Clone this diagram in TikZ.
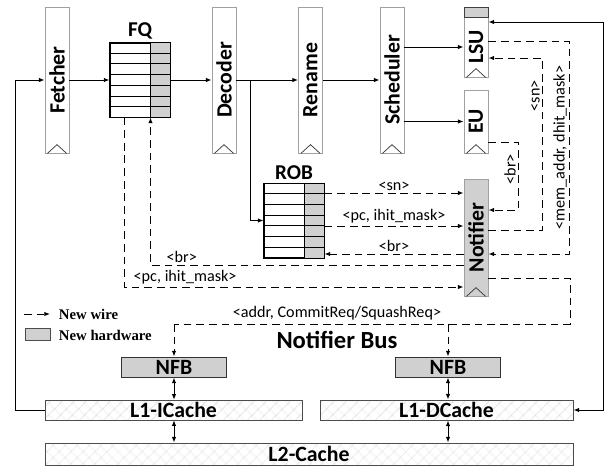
\documentclass[tikz,border=0pt]{standalone}
\usepackage{fontspec}
\setmainfont{Carlito}
\newfontfamily\legfont{Liberation Serif}
\usetikzlibrary{positioning,arrows.meta,calc,patterns.meta}
\definecolor{hwgray}{HTML}{D0D0D0}
\definecolor{stgline}{HTML}{A0A0A0}

\begin{document}
\begin{tikzpicture}[x=0.025cm,y=-0.025cm,
 st/.style={draw=stgline,fill=white,line width=0.6pt,minimum width=0.6cm,inner sep=0pt,
 font=\fontsize{15.5}{18}\selectfont\bfseries},
 tb/.style={draw=black,line width=0.7pt,fill=white,minimum width=1.5cm,minimum height=1.85cm,inner sep=0pt},
 ca/.style={draw=black!70,line width=0.6pt,pattern={Hatch[angle=45,distance=6.5pt,line width=0.3pt]},
 pattern color=black!18,minimum height=0.5cm,inner sep=0pt,font=\fontsize{15.5}{18}\selectfont\bfseries},
 nf/.style={draw=black!80,fill=hwgray,line width=0.7pt,minimum width=2.6cm,minimum height=0.5cm,
 inner sep=0pt,font=\fontsize{15.5}{18}\selectfont\bfseries},
 a/.style={-{Latex[length=1.4mm,width=1.1mm]},line width=0.7pt},
 ab/.style={{Latex[length=1.4mm,width=1.1mm]}-{Latex[length=1.4mm,width=1.1mm]},line width=0.7pt},
 nw/.style={a,dash pattern=on 5.5pt off 3.5pt},
 lb/.style={font=\fontsize{11.5}{13}\selectfont,inner sep=1.5pt},
 hd/.style={font=\fontsize{15}{18}\selectfont\bfseries,inner sep=1.5pt}]
\useasboundingbox (0,0) rectangle (613,468);

% pipeline stages
\node[st,minimum height=3.65cm] (fet) at (57,80) {\rotatebox{90}{Fetcher}};
\node[tb] (fq) at (140,80) {};
\node[st,minimum height=3.65cm] (dec) at (224,80) {\rotatebox{90}{Decoder}};
\node[st,minimum height=3.65cm] (ren) at (310.5,80) {\rotatebox{90}{Rename}};
\node[st,minimum height=3.65cm] (sch) at (392,80) {\rotatebox{90}{Scheduler}};
\node[st,minimum height=1.5cm] (lsu) at (476,47) {\rotatebox{90}{LSU}};
\node[st,fill=hwgray,draw=black!75,minimum height=0.25cm] (lsucap) at (476,12) {};
\node[st,minimum height=1.575cm] (eu) at (476,121.5) {\rotatebox{90}{EU}};
\node[st,fill=hwgray,minimum height=2.925cm] (ntf) at (476,237.5) {\rotatebox{90}{Notifier}};
\node[tb] (rob) at (294,220.5) {};
\node[hd,above=1pt of fq] (fqt) {FQ};
\node[hd,above=1pt of rob] (robt) {ROB};

% queue entries
\foreach \t in {fq,rob} {
  \fill[hwgray] ([xshift=-0.5cm]\t.north east) rectangle (\t.south east);
  \foreach \i in {1,...,6}
    \draw[line width=0.7pt] ($(\t.north west)!\i/7!(\t.south west)$) -- ($(\t.north east)!\i/7!(\t.south east)$);
  \draw[line width=0.7pt] ([xshift=-0.5cm]\t.north east) -- ([xshift=-0.5cm]\t.south east);
  \draw[line width=0.7pt] (\t.north west) rectangle (\t.south east);
}

% clock marks
\foreach \n in {fet,dec,ren,sch,lsu,eu,ntf}
  \draw[line width=0.5pt,black!80] ([xshift=-0.24cm]\n.south) -- ([yshift=0.22cm]\n.south) -- ([xshift=0.24cm]\n.south);

% memory side
\node[nf] (nfb1) at (174,367) {NFB};
\node[nf] (nfb2) at (448,367) {NFB};
\node[ca,minimum width=6.425cm] (l1i) at (173.5,410) {L1-ICache};
\node[ca,minimum width=6.325cm] (l1d) at (446.5,410) {L1-DCache};
\node[ca,minimum width=13.2cm,minimum height=0.55cm] (l2) at (309,454) {L2-Cache};

% legend
\coordinate (lw1) at (24,314);
\coordinate (lw2) at (50,314);
\draw[nw] (lw1) -- (lw2);
\node[right,font=\legfont\fontsize{10.5}{12}\selectfont\bfseries] (lwt) at (54,314) {New wire};
\node[draw=black!70,fill=hwgray,minimum width=0.625cm,minimum height=0.3cm,inner sep=0pt] (lhw) at (37.5,334.5) {};
\node[right,font=\legfont\fontsize{10.5}{12}\selectfont\bfseries] (lht) at (54,335) {New hardware};

% signal levels
\foreach \n/\y in {fbD/22,maOut/41,snIn/58,brOut/142,snRob/193,brIn/210,pcRob/226,snOut/230,
  brRob/254,brFq/265,busOut/278,pcFq/287}
  \coordinate (\n) at (0,\y);
\coordinate (busR) at (570,324);

% datapath
\draw[a] (l1i.west) -- ++(-29,0) |- (fet.west);
\draw[a] (fet) -- (fq);
\draw[a] (fq) -- (dec);
\draw[a] (dec) -- (ren);
\draw[a] (dec.east) ++(14,0) |- (rob.west);
\draw[a] (ren) -- (sch);
\draw[a] (sch.east |- lsu) -- (lsu);
\draw[a] (sch.east |- eu) -- (eu);
\draw[ab] (l1d.east) -- ++(30,0) |- (lsu.east |- fbD);

% notifier wires
\draw[nw] (rob.east |- snRob) -- node[lb,above]{<sn>} (ntf.west |- snRob);
\draw[nw] (rob.east |- pcRob) -- node[lb,above]{<pc, ihit\_mask>} (ntf.west |- pcRob);
\draw[nw] (ntf.west |- brRob) -- node[lb,above]{<br>} (rob.east |- brRob);
\draw[nw] (ntf.west |- brFq) -| node[lb,above,pos=0.45]{<br>} ([xshift=-0.5cm]fq.south east);
\draw[nw] ([xshift=-0.4cm]fq.south) |- node[lb,above,pos=0.59]{<pc, ihit\_mask>} (ntf.west |- pcFq);
\draw[nw] (ntf.east |- snOut) -- ++(54,0) |- node[lb,above,rotate=90,pos=0.39]{<sn>} (lsu.east |- snIn);
\draw[nw] (lsu.east |- maOut) -- ++(81,0) |- node[lb,above,rotate=90,pos=0.25]{<mem\_addr, dhit\_mask>} (ntf.east |- brRob);
\draw[nw] (eu.east |- brOut) -- ++(30,0) |- node[lb,above,rotate=90,pos=0.2]{<br>} (ntf.east |- brIn);

% notifier bus
\draw[nw,-] (ntf.east |- busOut) -| (busR) -- (nfb1.north |- busR);
\draw[nw] (nfb1.north |- busR) -- (nfb1);
\draw[nw] (nfb2.north |- busR) -- (nfb2);
\node[lb] (addr) at (337,313) {<addr, CommitReq/SquashReq>};
\node[font=\fontsize{17.5}{20}\selectfont\bfseries] (bus) at (337,340) {Notifier Bus};

\draw[ab] (nfb1) -- (nfb1 |- l1i.north);
\draw[ab] (l1i.south -| nfb1) -- (l2.north -| nfb1);
\draw[ab] (nfb2) -- (nfb2 |- l1d.north);
\draw[ab] (l1d.south -| nfb2) -- (l2.north -| nfb2);
\end{tikzpicture}
\end{document}
